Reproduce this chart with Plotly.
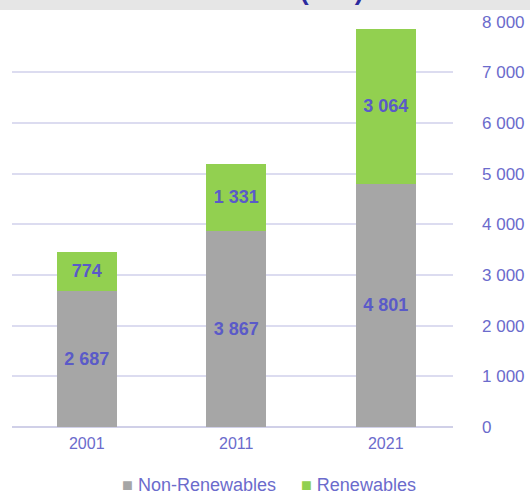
import plotly.graph_objects as go

years = ["2001", "2011", "2021"]
non_renewables = [2687, 3867, 4801]
renewables = [774, 1331, 3064]
y_ticks = [0, 1000, 2000, 3000, 4000, 5000, 6000, 7000, 8000]
series_names = ["Non-Renewables", "Renewables"]
series_colors = ["#A6A6A6", "#92D050"]

label_color = "#5A5AC8"
tick_color = "#6B6BCC"
grid_color = "#DCDCF0"
FONT = "Liberation Sans, Arial"

fig = go.Figure()
for name, vals, col in zip(series_names, [non_renewables, renewables], series_colors):
    fig.add_trace(go.Bar(
        x=years, y=vals, name=name,
        marker=dict(color=col, line=dict(width=0)),
        texttemplate="%{y:,}", textposition="inside", insidetextanchor="middle",
        textfont=dict(color=label_color, size=18, family=FONT, weight="bold"),
        showlegend=False,
    ))

legend_text = "     ".join(
    f"<span style='color:{c}'>■</span> {n}"
    for n, c in zip(series_names, series_colors)
)

fig.update_layout(
    barmode="stack",
    bargap=0.6,
    width=530, height=493,
    margin=dict(l=12, r=77, t=21, b=66, autoexpand=False),
    paper_bgcolor="white", plot_bgcolor="white",
    separators=". ",
    font=dict(family=FONT, color=tick_color, size=15),
    uniformtext=dict(mode="show", minsize=10),
    xaxis=dict(showgrid=False, showline=False, ticks="", automargin=False,
               range=[-0.5, 2.45],
               ticklabelstandoff=5,
               tickfont=dict(size=16, color=tick_color)),
    yaxis=dict(side="right", range=[0, 8015], tickvals=y_ticks, tickformat=",d",
               automargin=False,
               showgrid=True, gridcolor=grid_color, gridwidth=1.5,
               zeroline=True, zerolinecolor="#D0D0E8", zerolinewidth=1.5,
               ticks="", ticklabelstandoff=28,
               tickfont=dict(size=17, color=tick_color)),
    shapes=[dict(type="rect", xref="paper", yref="paper",
                 xsizemode="pixel", ysizemode="pixel", xanchor=0, yanchor=1,
                 x0=-20, x1=600, y0=11, y1=40,
                 fillcolor="#E6E6E6", line=dict(width=0), layer="below")],
    annotations=[
        dict(text="<b>Installed Power (MW)</b>", xref="paper", yref="paper",
             x=0.50, y=1, xanchor="center", yanchor="bottom", yshift=13,
             showarrow=False, font=dict(size=26, color="#2B2B9E")),
        dict(text=legend_text, xref="paper", yref="paper",
             x=0.583, y=0, xanchor="center", yanchor="middle", yshift=-58,
             showarrow=False, font=dict(size=18, color=tick_color, family=FONT)),
    ],
)

fig.write_html("out.html", config={"displayModeBar": False},
               post_script="document.body.style.margin='0';")
